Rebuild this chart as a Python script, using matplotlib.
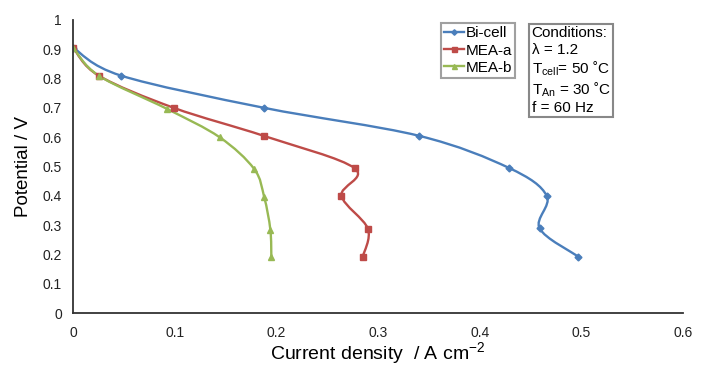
import numpy as np
import matplotlib
matplotlib.use("Agg")
import matplotlib.pyplot as plt
import matplotlib.patches as mpatches
from matplotlib.path import Path

plt.rcParams['font.family'] = ['Liberation Sans', 'DejaVu Sans']
plt.rcParams['mathtext.fontset'] = 'custom'
plt.rcParams['mathtext.rm'] = 'Liberation Sans'
plt.rcParams['mathtext.it'] = 'Liberation Sans:italic'

# data
bicell_x = [0.0, 0.047, 0.188, 0.34, 0.429, 0.466, 0.459, 0.497]
bicell_y = [0.905, 0.81, 0.70, 0.605, 0.495, 0.40, 0.289, 0.193]
meaa_x = [0.0, 0.025, 0.099, 0.188, 0.277, 0.264, 0.29, 0.285]
meaa_y = [0.905, 0.81, 0.70, 0.604, 0.494, 0.40, 0.288, 0.193]
meab_x = [0.0, 0.025, 0.092, 0.144, 0.178, 0.188, 0.194, 0.195]
meab_y = [0.905, 0.81, 0.697, 0.60, 0.492, 0.395, 0.285, 0.19]

series = [
    ("Bi-cell", bicell_x, bicell_y, "#4a7ebb", "D", 3.5),
    ("MEA-a", meaa_x, meaa_y, "#be4b48", "s", 4.5),
    ("MEA-b", meab_x, meab_y, "#98b954", "^", 4.5),
]

fig = plt.figure(figsize=(7.04, 3.68), dpi=100)
ax = fig.add_axes([0.104, 0.149, 0.866, 0.797])
ax.set_xlim(0, 0.6)
ax.set_ylim(0, 1)


def smooth_path(xs, ys, t=0.5):
    # excel-like smoothed line: cubic bezier segments in display space
    pts = ax.transData.transform(np.column_stack([xs, ys]))
    n = len(pts)
    verts = [pts[0]]
    codes = [Path.MOVETO]
    for i in range(n - 1):
        p0 = pts[i - 1] if i > 0 else pts[i]
        p1, p2 = pts[i], pts[i + 1]
        p3 = pts[i + 2] if i + 2 < n else pts[i + 1]
        c1 = p1 + (p2 - p0) * t / 3
        c2 = p2 - (p3 - p1) * t / 3
        verts += [c1, c2, p2]
        codes += [Path.CURVE4] * 3
    verts = ax.transData.inverted().transform(np.array(verts))
    return Path(verts, codes)


for name, xs, ys, col, mk, ms in series:
    p = smooth_path(xs, ys)
    ax.add_patch(mpatches.PathPatch(p, fill=False, edgecolor=col, lw=1.7))
    ax.plot(xs, ys, linestyle="none", marker=mk, color=col, ms=ms)
    ax.plot([], [], color=col, marker=mk, ms=ms * 0.8, lw=1.7, label=name)

ax.set_xticks(np.arange(0, 0.61, 0.1))
ax.set_xticklabels(["0", "0.1", "0.2", "0.3", "0.4", "0.5", "0.6"])
ax.set_yticks(np.arange(0, 1.01, 0.1))
ax.set_yticklabels(["0", "0.1", "0.2", "0.3", "0.4", "0.5", "0.6", "0.7", "0.8", "0.9", "1"])
ax.tick_params(length=0, labelsize=10, colors="#222222")
ax.tick_params(axis="x", pad=9)
ax.tick_params(axis="y", pad=8)
for s in ["top", "right"]:
    ax.spines[s].set_visible(False)
for s in ["left", "bottom"]:
    ax.spines[s].set_color("#333333")
    ax.spines[s].set_linewidth(1.3)

ax.set_xlabel("Current density  / A cm$^{-2}$", fontsize=14, labelpad=0)
ax.set_ylabel("Potential / V", fontsize=13.5, labelpad=8)

leg = ax.legend(loc="upper left", bbox_to_anchor=(0.603, 0.988), frameon=True,
                fancybox=False, edgecolor="#888888", fontsize=11,
                handlelength=1.3, handletextpad=0.1, borderpad=0.2,
                labelspacing=0.2, borderaxespad=0)
leg.get_frame().set_linewidth(1.5)

cond = ("Conditions:\n"
        "\u03bb = 1.2\n"
        "T$_{\\mathrm{cell}}$= 50 \u02daC\n"
        "T$_{\\mathrm{An}}$ = 30 \u02daC\n"
        "f = 60 Hz")
ax.text(0.752, 0.978, cond, transform=ax.transAxes, fontsize=11, va="top", ha="left",
        linespacing=1.2,
        bbox=dict(boxstyle="square,pad=0.15", facecolor="white", edgecolor="#888888", lw=1.5))

fig.savefig("out.png", dpi=100)
